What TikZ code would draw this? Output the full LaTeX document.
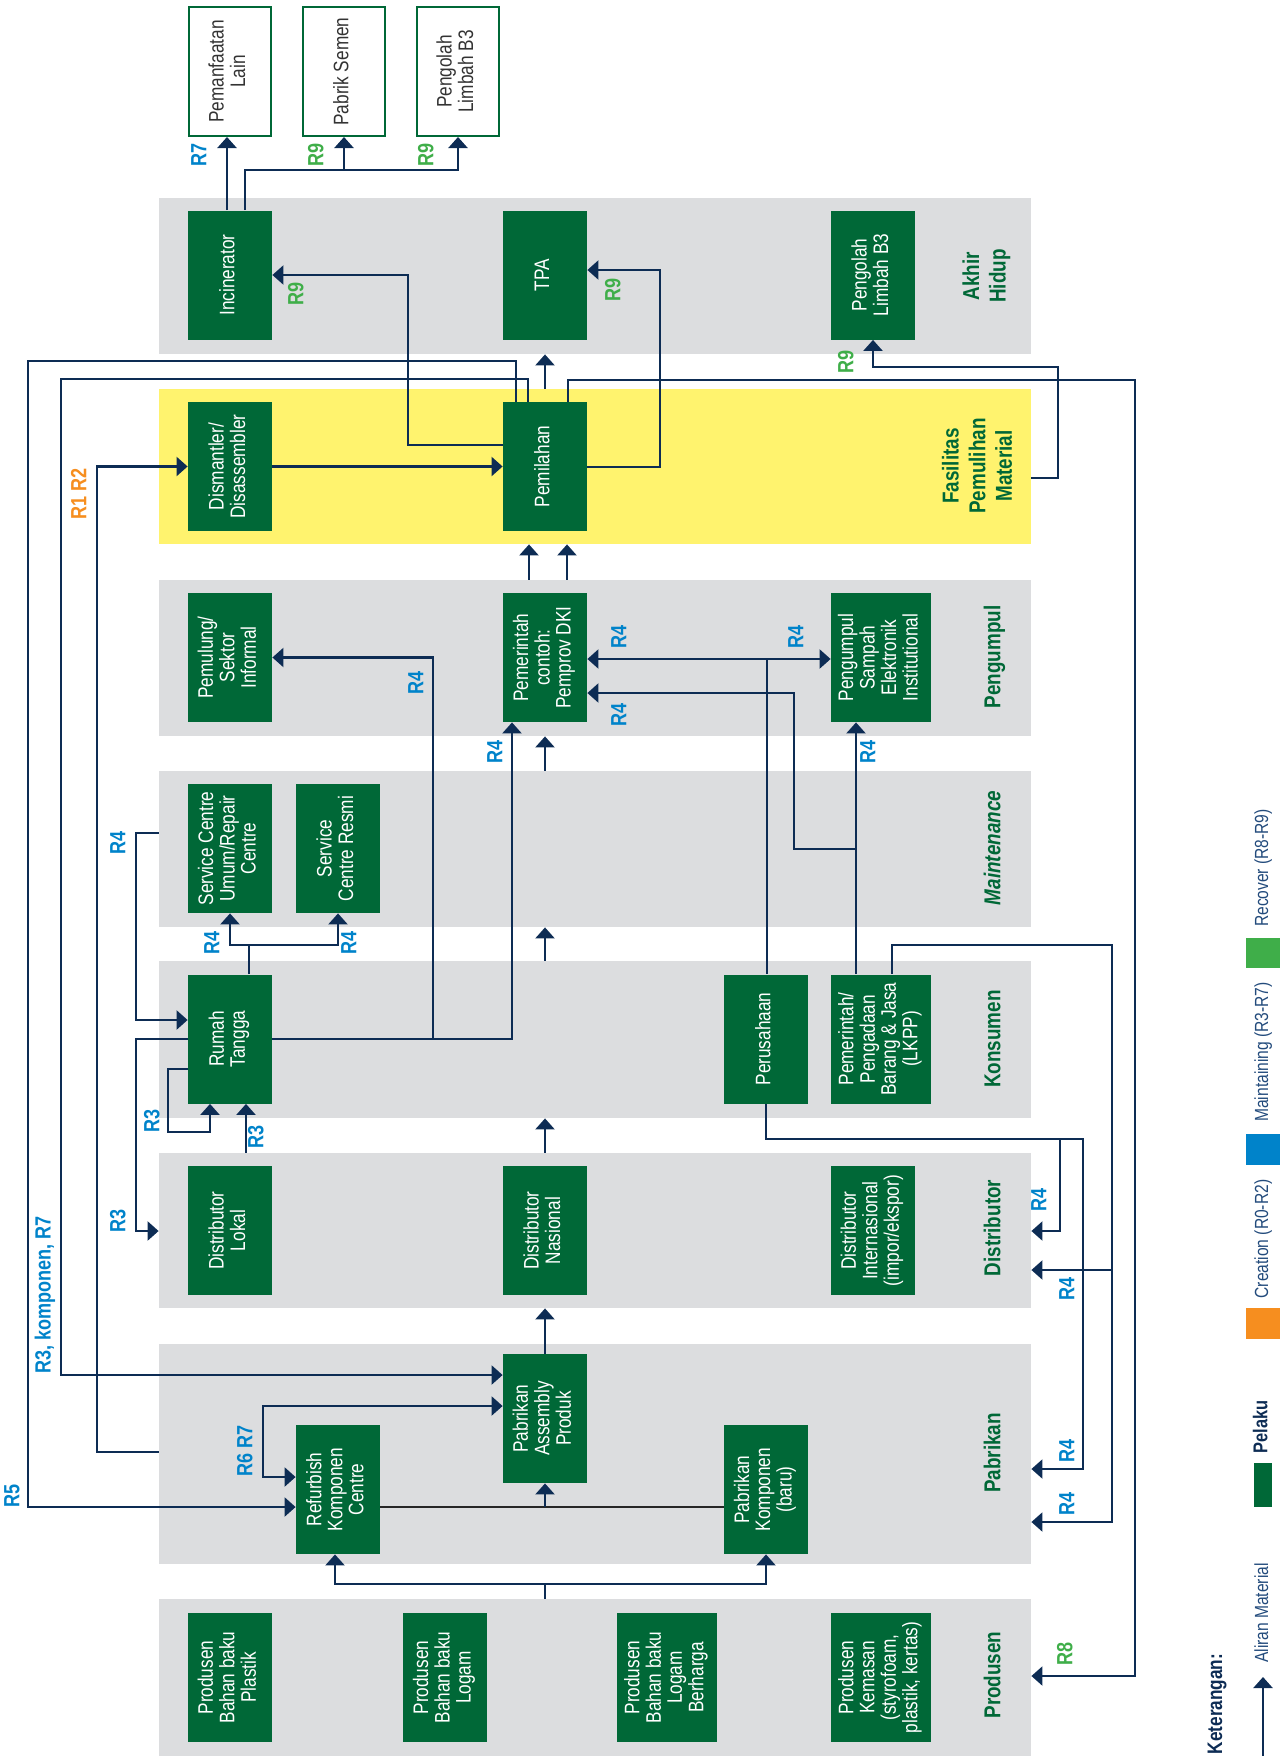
\documentclass[tikz,border=0pt]{standalone}
\usepackage{fontspec}
\setmainfont{Liberation Sans}[FakeStretch=0.82]
\usepackage{graphicx}
\usepackage{tikz}
\usetikzlibrary{arrows.meta}

\definecolor{pelakugreen}{HTML}{006837}
\definecolor{bandgray}{HTML}{DCDDDF}
\definecolor{mrfyellow}{HTML}{FFF36E}
\definecolor{flow}{HTML}{0D2C54}
\definecolor{rblue}{HTML}{0083CA}
\definecolor{rgreen}{HTML}{3FAE49}
\definecolor{rorange}{HTML}{F68E1F}
\definecolor{legendtxt}{HTML}{234B7C}

\newcommand{\vtxt}[1]{\rotatebox{90}{\begin{tabular}{@{}c@{}}#1\end{tabular}}}

\begin{document}
\begin{tikzpicture}[
  x=0.5pt, y=-0.5pt,
  font=\fontsize{10.5}{10.5}\selectfont,
  band/.style={fill=bandgray, minimum width=436pt, inner sep=0pt},
  pelaku/.style={fill=pelakugreen, text=white, minimum width=42pt, minimum height=64.5pt, inner sep=0pt},
  widebox/.style={minimum width=50pt},
  luar/.style={draw=pelakugreen, line width=1pt, fill=white, text=black!80, minimum width=41pt, minimum height=64.5pt, inner sep=0pt},
  tahap/.style={text=pelakugreen, font=\bfseries\fontsize{11.5}{13.3}\selectfont, inner sep=0pt},
  rtag/.style={font=\bfseries\fontsize{11}{11}\selectfont, inner sep=0pt},
  legtxt/.style={text=legendtxt, font=\fontsize{9.5}{9.5}\selectfont, inner sep=0pt},
  arrow/.style={draw=flow, line width=1.1pt, -{Triangle[width=9.5pt,length=5.5pt]}},
  arrow2/.style={draw=flow, line width=1.1pt, {Triangle[width=9.5pt,length=5.5pt]}-{Triangle[width=9.5pt,length=5.5pt]}},
  flowline/.style={draw=flow, line width=1.1pt}
]
\useasboundingbox (0,0) rectangle (1285,1756);

\node[band, minimum height=78pt] (bAkhir) at (595,276) {};
\node[band, fill=mrfyellow, minimum height=77.5pt] (bMrf) at (595,466.5) {};
\node[band, minimum height=78pt] (bKumpul) at (595,658) {};
\node[band, minimum height=78pt] (bMaint) at (595,849) {};
\node[band, minimum height=78.5pt] (bKons) at (595,1039.5) {};
\node[band, minimum height=77.5pt] (bDist) at (595,1230.5) {};
\node[band, minimum height=110pt] (bPabrik) at (595,1454) {};
\node[band, minimum height=78.5pt] (bProd) at (595,1677.5) {};

\node[tahap] (tAkhir) at (987,276) {\vtxt{Akhir\\Hidup}};
\node[tahap] (tMrf) at (980,466) {\vtxt{Fasilitas\\Pemulihan\\Material}};
\node[tahap] (tKumpul) at (995,657) {\vtxt{Pengumpul}};
\node[tahap] (tMaint) at (995,848) {\vtxt{\itshape Maintenance}};
\node[tahap] (tKons) at (995,1039) {\vtxt{Konsumen}};
\node[tahap] (tDist) at (995,1228) {\vtxt{Distributor}};
\node[tahap] (tPabrik) at (995,1453) {\vtxt{Pabrikan}};
\node[tahap] (tProd) at (995,1675) {\vtxt{Produsen}};

\node[luar] (lain) at (230,71.5) {\vtxt{Pemanfaatan\\Lain}};
\node[luar] (semen) at (344,71.5) {\vtxt{Pabrik Semen}};
\node[luar] (b3luar) at (458,71.5) {\vtxt{Pengolah\\Limbah B3}};

\node[pelaku] (incin) at (230,275) {\vtxt{Incinerator}};
\node[pelaku] (tpa) at (545,275) {\vtxt{TPA}};
\node[pelaku] (b3) at (873,275) {\vtxt{Pengolah\\Limbah B3}};

\node[pelaku] (dism) at (230,466.5) {\vtxt{Dismantler/\\Disassembler}};
\node[pelaku] (pilah) at (545,466.5) {\vtxt{Pemilahan}};

\node[pelaku] (pemulung) at (230,657.5) {\vtxt{Pemulung/\\Sektor\\Informal}};
\node[pelaku] (pemprov) at (545,657.5) {\vtxt{Pemerintah\\contoh:\\Pemprov DKI}};
\node[pelaku, widebox] (kumpulE) at (881,657.5) {\vtxt{Pengumpul\\Sampah\\Elektronik\\Institutional}};

\node[pelaku] (scUmum) at (230,848.5) {\vtxt{Service Centre\\Umum/Repair\\Centre}};
\node[pelaku] (scResmi) at (338,848.5) {\vtxt{Service\\Centre Resmi}};

\node[pelaku] (rumah) at (230,1039) {\vtxt{Rumah\\Tangga}};
\node[pelaku] (perus) at (766,1039) {\vtxt{Perusahaan}};
\node[pelaku, widebox] (lkpp) at (881,1039) {\vtxt{Pemerintah/\\Pengadaan\\Barang \& Jasa\\(LKPP)}};

\node[pelaku] (distLokal) at (230,1230.5) {\vtxt{Distributor\\Lokal}};
\node[pelaku] (distNas) at (545,1230.5) {\vtxt{Distributor\\Nasional}};
\node[pelaku] (distInt) at (873,1230.5) {\vtxt{Distributor\\Internasional\\(impor/ekspor)}};

\node[pelaku] (assembly) at (545,1418.5) {\vtxt{Pabrikan\\Assembly\\Produk}};
\node[pelaku] (refurb) at (338,1489.5) {\vtxt{Refurbish\\Komponen\\Centre}};
\node[pelaku] (komp) at (766,1489.5) {\vtxt{Pabrikan\\Komponen\\(baru)}};

\node[pelaku] (prodPlastik) at (230,1677.5) {\vtxt{Produsen\\Bahan baku\\Plastik}};
\node[pelaku] (prodLogam) at (445,1677.5) {\vtxt{Produsen\\Bahan baku\\Logam}};
\node[pelaku, widebox] (prodBerharga) at (667,1677.5) {\vtxt{Produsen\\Bahan baku\\Logam\\Berharga}};
\node[pelaku, widebox] (prodKemasan) at (881,1677.5) {\vtxt{Produsen\\Kemasan\\(styrofoam,\\plastik, kertas)}};

\draw[arrow] (incin.north -| 227,0) -- (lain.south -| 227,0);
\draw[arrow] (incin.north -| 245,0) -- (245,170) -| (b3luar.south);
\draw[arrow] (semen.south |- 0,170) -- (semen.south);

\draw[arrow] (pilah.west |- 0,445) -- (408,445) |- (incin.east);
\draw[arrow] (pilah.east |- 0,467) -- (660,467) |- (tpa.east |- 0,270);
\draw[arrow] (bMrf.north -| tpa.south) -- (tpa.south |- bAkhir.south);
\draw[arrow] (bMrf.east |- 0,478) -- (1058,478) |- (873,367) -- (b3.south);
\draw[arrow] (dism.east) -- (pilah.west);

\draw[arrow] (pilah.north -| 568,0) -- (568,380) -| (1135,1676) -- (bProd.east |- 0,1676);
\draw[arrow] (pilah.north -| 528,0) -- (528,379) -| (61,1375) -- (assembly.west |- 0,1375);
\draw[arrow] (pilah.north -| 516,0) -- (516,361) -| (28,1507) -- (refurb.west |- 0,1507);
\draw[arrow] (bPabrik.west |- 0,1452) -- (97,1452) |- (dism.west);

\draw[arrow] (bKumpul.north -| 529,0) -- (bMrf.south -| 529,0);
\draw[arrow] (bKumpul.north -| 567,0) -- (bMrf.south -| 567,0);
\draw[arrow] (bMaint.north -| 545,0) -- (bKumpul.south -| 545,0);
\draw[arrow] (bKons.north -| 545,0) -- (bMaint.south -| 545,0);
\draw[arrow] (bDist.north -| 545,0) -- (bKons.south -| 545,0);
\draw[arrow] (assembly.north) -- (assembly.north |- bDist.south);

\coordinate (jRumah) at (433,1039);
\coordinate (jSc) at (249,945);
\draw[arrow] (rumah.east) -| (pemprov.south -| 512,0);
\draw[arrow] (jRumah) |- (pemulung.east);
\draw[flowline] (rumah.north -| jSc) -- (jSc);
\draw[arrow] (jSc) -| (scUmum.south);
\draw[arrow] (jSc) -| (scResmi.south);
\draw[arrow] (bMaint.west |- 0,833) -- (136,833) |- (rumah.west |- 0,1020);
\draw[arrow] (rumah.west) -- (136,1039) |- (bDist.west |- 0,1231);
\draw[arrow] (rumah.west |- 0,1069) -- (168,1069) |- (210,1132) -- (rumah.south -| 210,0);
\draw[arrow] (bDist.north -| 246,0) -- (rumah.south -| 246,0);

\coordinate (jPerus) at (767,659);
\draw[flowline] (perus.north -| jPerus) -- (jPerus);
\draw[arrow] (jPerus) -- (pemprov.east |- jPerus);
\draw[arrow] (jPerus) -- (kumpulE.west |- jPerus);
\draw[arrow] (lkpp.north -| 856,0) -- (kumpulE.south -| 856,0);
\draw[arrow] (856,849) -- (794,849) |- (pemprov.east |- 0,693);
\draw[arrow] (lkpp.north -| 892,0) -- (892,945) -| (1112,1522) -- (bPabrik.east |- 0,1522);
\draw[arrow] (1112,1270) -- (bDist.east |- 0,1270);
\draw[arrow] (perus.south) -- (766,1139) -| (1083,1469) -- (bPabrik.east |- 0,1469);
\draw[arrow] (1060,1139) |- (bDist.east |- 0,1231);

\coordinate (jProd) at (545,1584);
\draw[arrow2] (refurb.west |- 0,1477) -- (263,1477) |- (assembly.west |- 0,1406);
\draw[draw=black!85, line width=1.1pt] (refurb.east |- 0,1507) -- (komp.west |- 0,1507);
\draw[arrow] (assembly.south |- 0,1507) -- (assembly.south);
\draw[flowline] (bProd.north -| jProd) -- (jProd);
\draw[arrow] (jProd) -| (refurb.south -| 335,0);
\draw[arrow] (jProd) -| (komp.south);

\node[rtag, text=rblue] (r7a) at (202,155) {\vtxt{R7}};
\node[rtag, text=rgreen] (r9a) at (319,155) {\vtxt{R9}};
\node[rtag, text=rgreen] (r9b) at (429,155) {\vtxt{R9}};
\node[rtag, text=rgreen] (r9c) at (299,294) {\vtxt{R9}};
\node[rtag, text=rgreen] (r9d) at (616,290) {\vtxt{R9}};
\node[rtag, text=rgreen] (r9e) at (849,362) {\vtxt{R9}};
\node[rtag, text=rorange] (r12) at (82,494) {\vtxt{R1 R2}};
\node[rtag, text=rblue] (r4a) at (419,683) {\vtxt{R4}};
\node[rtag, text=rblue] (r4b) at (622,637) {\vtxt{R4}};
\node[rtag, text=rblue] (r4c) at (799,637) {\vtxt{R4}};
\node[rtag, text=rblue] (r4d) at (622,715) {\vtxt{R4}};
\node[rtag, text=rblue] (r4e) at (498,752) {\vtxt{R4}};
\node[rtag, text=rblue] (r4f) at (871,752) {\vtxt{R4}};
\node[rtag, text=rblue] (r4g) at (121,843) {\vtxt{R4}};
\node[rtag, text=rblue] (r4h) at (215,943) {\vtxt{R4}};
\node[rtag, text=rblue] (r4i) at (352,943) {\vtxt{R4}};
\node[rtag, text=rblue] (r3a) at (155,1121) {\vtxt{R3}};
\node[rtag, text=rblue] (r3b) at (259,1137) {\vtxt{R3}};
\node[rtag, text=rblue] (r3c) at (121,1221) {\vtxt{R3}};
\node[rtag, text=rblue] (r3k) at (46,1295) {\vtxt{R3, komponen, R7}};
\node[rtag, text=rblue] (r67) at (248,1451) {\vtxt{R6 R7}};
\node[rtag, text=rblue] (r5) at (15,1496) {\vtxt{R5}};
\node[rtag, text=rblue] (r4j) at (1042,1200) {\vtxt{R4}};
\node[rtag, text=rblue] (r4k) at (1070,1289) {\vtxt{R4}};
\node[rtag, text=rblue] (r4l) at (1070,1451) {\vtxt{R4}};
\node[rtag, text=rblue] (r4m) at (1070,1504) {\vtxt{R4}};
\node[rtag, text=rgreen] (r8) at (1068,1654) {\vtxt{R8}};

\node[text=flow, font=\bfseries\fontsize{10.5}{10.5}\selectfont, inner sep=0pt] (ket) at (1218,1704) {\vtxt{Keterangan:}};
\coordinate (legA) at (1263,1756);
\coordinate (legB) at (1263,1677);
\draw[arrow] (legA) -- (legB);
\node[legtxt] (legAliran) at (1264,1613) {\vtxt{Aliran Material}};
\node[fill=pelakugreen, minimum width=9pt, minimum height=22pt, inner sep=0pt] (legPelaku) at (1263,1485) {};
\node[text=flow, font=\bfseries\fontsize{10}{10}\selectfont, inner sep=0pt] (legPelakuT) at (1263,1427) {\vtxt{Pelaku}};
\node[fill=rorange, minimum width=17pt, minimum height=15.5pt, inner sep=0pt] (legOrange) at (1263,1323.5) {};
\node[legtxt] (legCreation) at (1264,1239) {\vtxt{Creation (R0-R2)}};
\node[fill=rblue, minimum width=17pt, minimum height=15.5pt, inner sep=0pt] (legBlue) at (1263,1149.5) {};
\node[legtxt] (legMaint) at (1264,1052) {\vtxt{Maintaining (R3-R7)}};
\node[fill=rgreen, minimum width=17pt, minimum height=15pt, inner sep=0pt] (legGreen) at (1263,953) {};
\node[legtxt] (legRecover) at (1264,868) {\vtxt{Recover (R8-R9)}};

\end{tikzpicture}
\end{document}
